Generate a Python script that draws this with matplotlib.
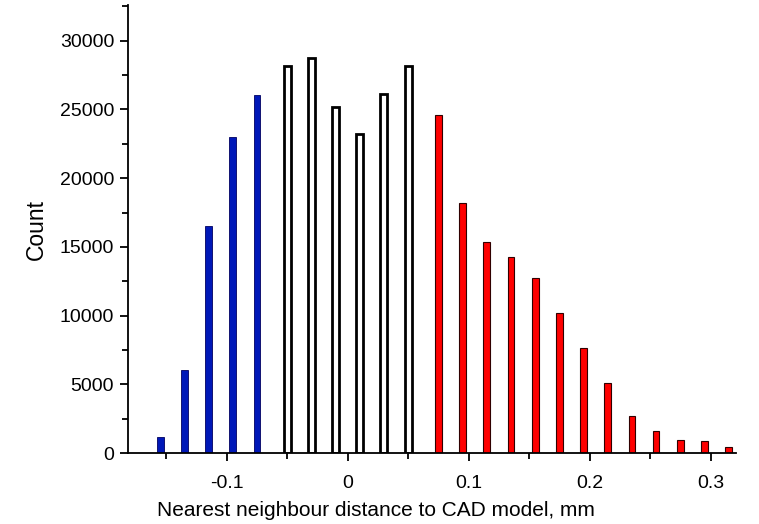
import matplotlib
matplotlib.use("Agg")
import matplotlib.pyplot as plt
from matplotlib.ticker import MultipleLocator

plt.rcParams['font.family'] = ['Liberation Sans', 'DejaVu Sans']

blue_x = [-0.155, -0.135, -0.115, -0.095, -0.075]
blue_y = [1150, 6050, 16520, 23000, 26030]
white_x = [-0.05, -0.03, -0.01, 0.01, 0.03, 0.05]
white_y = [28180, 28760, 25200, 23210, 26100, 28140]
red_x = [0.075, 0.095, 0.115, 0.135, 0.155, 0.175, 0.195, 0.215, 0.235, 0.255, 0.275, 0.295, 0.315]
red_y = [24600, 18180, 15360, 14270, 12770, 10200, 7630, 5110, 2710, 1620, 950, 890, 460]

xticks = [-0.1, 0, 0.1, 0.2, 0.3]
xticklabels = ['-0.1', '0', '0.1', '0.2', '0.3']
yticks = [0, 5000, 10000, 15000, 20000, 25000, 30000]

fig = plt.figure(figsize=(7.59, 5.24), dpi=100)
ax = fig.add_axes([128/759, (524-453)/524, (736-128)/759, (453-5)/524])

w = 0.0055
ax.bar(blue_x, blue_y, width=w, color='#0018b8', edgecolor='#000060', linewidth=0.6)
ax.bar(white_x, white_y, width=0.0058, color='white', edgecolor='black', linewidth=2.0)
ax.bar(red_x, red_y, width=w, color='#ff0000', edgecolor='#300000', linewidth=0.8)

ax.set_xlim(-0.1816, 0.321)
ax.set_ylim(0, 32600)
ax.set_xticks(xticks)
ax.set_xticklabels(xticklabels)
ax.set_yticks(yticks)
ax.xaxis.set_minor_locator(MultipleLocator(0.05))
ax.yaxis.set_minor_locator(MultipleLocator(2500))
for s in ['top', 'right']:
    ax.spines[s].set_visible(False)
for s in ['left', 'bottom']:
    ax.spines[s].set_linewidth(1.3)
ax.tick_params(which='major', length=6, width=1.3, labelsize=14, pad=4)
ax.tick_params(which='minor', length=4, width=1.3)
ax.tick_params(axis='x', which='major', pad=10)

ax.set_xlabel('Nearest neighbour distance to CAD model, mm', fontsize=15)
ax.set_ylabel('Count', fontsize=16.5)
ax.xaxis.set_label_coords((375.5-128)/608, (453-501)/448)
ax.yaxis.set_label_coords((48-128)/608, 0.5)

fig.savefig('out.png', dpi=100)
